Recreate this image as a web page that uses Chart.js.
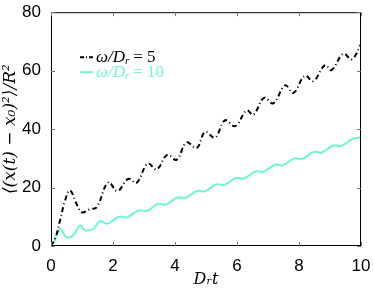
<!DOCTYPE html>
<html>
<head>
<meta charset="utf-8">
<script src="https://cdn.jsdelivr.net/npm/chart.js@4/dist/chart.umd.min.js"></script>
<style>
  html, body { margin: 0; padding: 0; background: #fff; }
  #wrap { width: 374px; height: 289px; }
</style>
</head>
<body>
<div id="wrap"><canvas id="msdChart"></canvas></div>
<script>
// omega/Dr = 5 (black dash-dot)
const tFive = [0, 0.15, 0.29, 0.45, 0.61, 0.83, 0.99, 1.26, 1.47, 1.85, 2.14, 2.5, 2.76, 3.12, 3.41, 3.75, 4.05, 4.37, 4.7, 4.97, 5.29, 5.61, 5.94, 6.31, 6.53, 6.87, 7.17, 7.55, 7.82, 8.19, 8.46, 8.84, 9.05, 9.43, 9.7, 10];
const msdFive = [0, 3, 8.7, 15.4, 19.0, 14.3, 11.5, 12.6, 13.2, 21.8, 18.8, 23.0, 21.6, 28.2, 26.2, 31.2, 29.5, 35.4, 33.5, 39.0, 37.1, 43.0, 41.0, 46.4, 44.9, 50.7, 48.8, 55.0, 52.4, 58.3, 56.4, 61.9, 60.2, 65.8, 63.9, 69.0];

// omega/Dr = 10 (cyan solid)
const tTen = [0, 0.1, 0.2, 0.31, 0.42, 0.52, 0.72, 0.94, 1.1, 1.37, 1.57, 1.82, 2.2, 2.45, 2.83, 3.08, 3.46, 3.71, 4.08, 4.33, 4.71, 4.96, 5.34, 5.59, 5.97, 6.22, 6.6, 6.85, 7.23, 7.48, 7.85, 8.1, 8.48, 8.73, 9.11, 9.36, 9.74, 10];
const msdTen = [0, 1.5, 4.2, 5.9, 4.0, 2.9, 3.7, 7.0, 5.4, 5.9, 8.5, 7.6, 10.0, 9.8, 12.2, 12.0, 14.4, 14.2, 16.6, 16.4, 18.8, 18.7, 21.1, 20.9, 23.3, 23.1, 25.5, 25.4, 27.8, 27.6, 30.0, 29.8, 32.2, 32.0, 34.4, 34.2, 36.7, 37.2];

const xTicks = [0, 2, 4, 6, 8, 10];
const yTicks = [0, 20, 40, 60, 80];

const cyan = 'rgb(112, 245, 212)';

const toPoints = (xs, ys) => xs.map((x, i) => ({ x: x, y: ys[i] }));

// frame, inward ticks and in-plot legend
const framePlugin = {
    id: 'frame',
    afterDraw(chart) {
        const ctx = chart.ctx;
        const a = chart.chartArea;
        const xs = chart.scales.x, ys = chart.scales.y;
        ctx.save();
        ctx.strokeStyle = '#000';
        ctx.lineWidth = 1;
        ctx.strokeRect(a.left + 0.5, a.top + 0.5, a.right - a.left - 1, a.bottom - a.top - 1);
        ctx.strokeStyle = '#777';
        xTicks.forEach(v => {
            const px = Math.round(xs.getPixelForValue(v)) + 0.5;
            ctx.beginPath();
            ctx.moveTo(px, a.bottom); ctx.lineTo(px, a.bottom - 4);
            ctx.moveTo(px, a.top); ctx.lineTo(px, a.top + 4);
            ctx.stroke();
        });
        yTicks.forEach(v => {
            const py = Math.round(ys.getPixelForValue(v)) + 0.5;
            ctx.beginPath();
            ctx.moveTo(a.left, py); ctx.lineTo(a.left + 4, py);
            ctx.moveTo(a.right, py); ctx.lineTo(a.right - 4, py);
            ctx.stroke();
        });

        // legend
        const entries = [
            { color: '#000', dash: [4, 2, 1, 2], val: '5', y: a.top + 45 },
            { color: cyan, dash: [], val: '10', y: a.top + 60 }
        ];
        entries.forEach(e => {
            const lx = a.left + 29;
            ctx.strokeStyle = e.color;
            ctx.lineWidth = 2;
            ctx.setLineDash(e.dash);
            ctx.beginPath();
            ctx.moveTo(lx, e.y); ctx.lineTo(lx + 13, e.y);
            ctx.stroke();
            ctx.setLineDash([]);
            ctx.fillStyle = e.color;
            ctx.textBaseline = 'middle';
            let tx = lx + 16;
            ctx.font = 'italic 17px "Liberation Serif"';
            ctx.fillText('ω/D', tx, e.y);
            tx += ctx.measureText('ω/D').width;
            ctx.font = 'italic 11px "Liberation Serif"';
            ctx.fillText('r', tx, e.y + 4);
            tx += ctx.measureText('r').width + 4;
            ctx.font = '17px "Liberation Serif"';
            ctx.fillText('= ' + e.val, tx, e.y);
        });
        ctx.restore();
    }
};

const ctx = document.getElementById('msdChart').getContext('2d');
const msdChart = new Chart(ctx, {
    type: 'line',
    data: {
        datasets: [{
            label: 'ω/Dr = 5',
            data: toPoints(tFive, msdFive),
            borderColor: '#000',
            borderWidth: 2,
            borderDash: [5, 3, 1, 3],
            pointRadius: 0,
            tension: 0.4,
            fill: false
        }, {
            label: 'ω/Dr = 10',
            data: toPoints(tTen, msdTen),
            borderColor: cyan,
            borderWidth: 2,
            pointRadius: 0,
            tension: 0.4,
            fill: false
        }]
    },
    options: {
        responsive: true,
        maintainAspectRatio: false,
        animation: false,
        layout: { padding: { top: 7, right: 13, left: 0, bottom: 0 } },
        plugins: {
            legend: { display: false },
            tooltip: { enabled: false }
        },
        scales: {
            x: {
                type: 'linear',
                min: 0, max: 10,
                afterBuildTicks: s => { s.ticks = xTicks.map(v => ({ value: v })); },
                afterFit: s => { s.height = 43; },
                grid: { display: false },
                border: { display: false },
                ticks: {
                    color: '#000',
                    padding: 2,
                    maxRotation: 0,
                    font: { family: '"Liberation Sans"', size: 17 }
                },
                title: {
                    display: true,
                    text: 'Dᵣt',
                    color: '#000',
                    padding: 0,
                    font: { family: '"DejaVu Serif"', style: 'italic', size: 16 }
                }
            },
            y: {
                min: 0, max: 80,
                afterBuildTicks: s => { s.ticks = yTicks.map(v => ({ value: v })); },
                afterFit: s => { s.width = 51; },
                grid: { display: false },
                border: { display: false },
                ticks: {
                    color: '#000',
                    padding: 2,
                    font: { family: '"Liberation Sans"', size: 17 }
                },
                title: {
                    display: true,
                    text: '⟨(x(t) − x₀)²⟩/R²',
                    color: '#000',
                    padding: 0,
                    font: { family: '"DejaVu Serif"', style: 'italic', size: 17 }
                }
            }
        }
    },
    plugins: [framePlugin]
});
</script>
</body>
</html>
